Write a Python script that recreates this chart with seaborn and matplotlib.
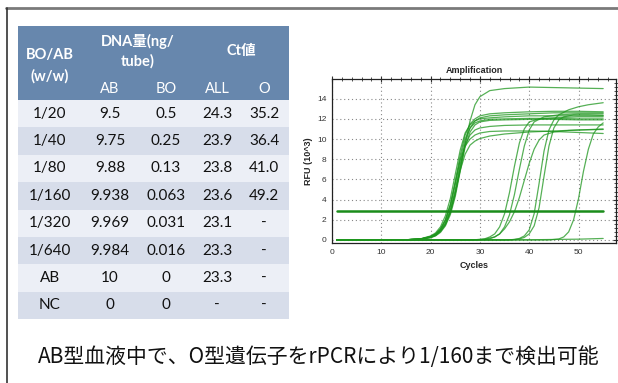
import pandas as pd
import matplotlib.pyplot as plt
import matplotlib.patches as mpatches
from matplotlib.ticker import MultipleLocator
import seaborn as sns

sns.set_style("white")
plt.rcParams["font.family"] = ["Lato", "Noto Sans CJK JP", "DejaVu Sans"]

# Table data
ROW_LABELS = ["1/20", "1/40", "1/80", "1/160", "1/320", "1/640", "AB", "NC"]
DNA_AB = ["9.5", "9.75", "9.88", "9.938", "9.969", "9.984", "10", "0"]
DNA_BO = ["0.5", "0.25", "0.13", "0.063", "0.031", "0.016", "0", "0"]
CT_ALL = ["24.3", "23.9", "23.8", "23.6", "23.1", "23.3", "23.3", "-"]
CT_O = ["35.2", "36.4", "41.0", "49.2", "-", "-", "-", "-"]
SUB_HEADERS = ["AB", "BO", "ALL", "O"]

CAPTION = "AB型血液中で、O型遺伝子をrPCRにより1/160まで検出可能"

# Amplification curves (cycle, RFU x10^3)
EARLY_CYCLES = [1, 15, 18, 20, 21, 22, 23, 24, 25, 26, 27, 28, 29, 30, 32, 35, 40, 45, 50, 55]
early_1 = [0, 0.02, 0.1, 0.3, 0.5, 0.9, 1.6, 2.8, 4.6, 7.0, 9.5, 11.8, 13.4, 14.2, 14.8, 15.0, 15.15, 15.1, 15.05, 15.0]
early_2 = [0, 0.02, 0.1, 0.35, 0.6, 1.1, 2.0, 3.5, 5.8, 8.4, 10.4, 11.5, 12.0, 12.3, 12.5, 12.6, 12.7, 12.75, 12.75, 12.7]
early_3 = [0, 0.02, 0.08, 0.25, 0.45, 0.85, 1.5, 2.7, 4.6, 7.2, 9.6, 11.1, 11.8, 12.1, 12.3, 12.4, 12.5, 12.6, 12.6, 12.6]
early_4 = [0, 0.02, 0.12, 0.4, 0.7, 1.3, 2.4, 4.1, 6.5, 8.9, 10.6, 11.4, 11.8, 12.0, 12.1, 12.2, 12.3, 12.3, 12.3, 12.3]
early_5 = [0, 0.02, 0.1, 0.3, 0.55, 1.0, 1.9, 3.3, 5.5, 8.0, 10.0, 11.1, 11.6, 11.8, 11.95, 12.0, 12.05, 12.05, 12.0, 12.0]
early_6 = [0, 0.02, 0.08, 0.22, 0.4, 0.75, 1.4, 2.5, 4.3, 6.8, 9.2, 10.7, 11.4, 11.7, 11.85, 11.9, 11.95, 11.95, 11.9, 11.9]
early_7 = [0, 0.02, 0.1, 0.3, 0.5, 0.95, 1.7, 3.0, 5.0, 7.5, 9.4, 10.4, 10.9, 11.1, 11.25, 11.35, 11.4, 11.4, 11.4, 11.4]
early_8 = [0, 0.02, 0.1, 0.35, 0.6, 1.1, 2.0, 3.5, 5.7, 7.9, 9.3, 10.0, 10.4, 10.6, 10.75, 10.8, 10.8, 10.75, 10.65, 10.55]
early_9 = [0, 0.02, 0.08, 0.25, 0.45, 0.85, 1.55, 2.8, 4.7, 6.9, 8.5, 9.4, 9.8, 10.05, 10.3, 10.5, 10.7, 10.8, 10.9, 10.95]

late_1_x = [1, 28, 30, 31, 32, 33, 34, 35, 36, 37, 38, 39, 40, 42, 45, 50, 55]
late_1_y = [0, 0, 0.05, 0.12, 0.3, 0.6, 1.3, 2.6, 4.7, 7.3, 9.6, 11.0, 11.7, 12.0, 12.1, 12.2, 12.2]
late_2_x = [1, 29, 31, 32, 33, 34, 35, 36, 37, 38, 39, 40, 41, 43, 46, 50, 55]
late_2_y = [0, 0, 0.05, 0.12, 0.3, 0.6, 1.3, 2.5, 4.5, 7.0, 9.3, 10.9, 11.7, 12.2, 12.4, 12.5, 12.5]
late_3_x = [1, 28, 31, 33, 34, 35, 36, 37, 38, 39, 40, 41, 42, 43, 45, 48, 55]
late_3_y = [0, 0, 0.08, 0.3, 0.6, 1.1, 1.8, 2.8, 4.2, 5.9, 7.6, 9.0, 9.9, 10.4, 10.7, 10.85, 11.0]
late_4_x = [1, 35, 37, 38, 39, 40, 41, 42, 43, 44, 45, 46, 48, 50, 52, 55]
late_4_y = [0, 0, 0.05, 0.15, 0.4, 1.0, 2.6, 5.6, 8.8, 10.9, 11.9, 12.4, 12.9, 13.2, 13.4, 13.6]
late_5_x = [1, 36, 38, 39, 40, 41, 42, 43, 44, 45, 46, 47, 49, 52, 55]
late_5_y = [0, 0, 0.1, 0.25, 0.6, 1.4, 3.2, 6.3, 9.3, 11.1, 11.9, 12.2, 12.4, 12.4, 12.35]
late_6_x = [1, 44, 46, 47, 48, 49, 50, 51, 52, 53, 54, 55]
late_6_y = [0, 0, 0.1, 0.3, 0.8, 2.0, 4.1, 6.8, 9.0, 10.5, 11.2, 11.6]
nc_x = [1, 20, 40, 50, 55]
nc_y = [0.02, 0.0, 0.02, 0.08, 0.15]

THRESHOLD = 2.9
THRESHOLD_RANGE = [1, 55]

# long table of curves for seaborn
curves = {}
for i, ys in enumerate([early_1, early_2, early_3, early_4, early_5,
                        early_6, early_7, early_8, early_9]):
    curves[f"e{i}"] = (EARLY_CYCLES, ys)
curves["l1"] = (late_1_x, late_1_y)
curves["l2"] = (late_2_x, late_2_y)
curves["l3"] = (late_3_x, late_3_y)
curves["l4"] = (late_4_x, late_4_y)
curves["l5"] = (late_5_x, late_5_y)
curves["l6"] = (late_6_x, late_6_y)
curves["nc"] = (nc_x, nc_y)

rows = []
for name, (xs, ys) in curves.items():
    for x, y in zip(xs, ys):
        rows.append({"well": name, "cycle": x, "rfu": y})
df = pd.DataFrame(rows)

fig = plt.figure(figsize=(6.18, 3.83), dpi=100)

# page overlay in pixel coordinates
page = fig.add_axes([0, 0, 1, 1])
page.set_xlim(0, 618)
page.set_ylim(383, 0)
page.axis("off")

# frame lines
page.plot([6, 618], [7.5, 7.5], color="#7a7a7a", lw=2)
page.plot([6.5, 6.5], [7.5, 383], color="#333333", lw=1.2)

# table
tx0, tx1 = 18, 289
head_top, head_bot = 26, 100
row_h = (319 - head_bot) / len(ROW_LABELS)
col_x = [50, 110, 166, 217, 264]

page.add_patch(mpatches.Rectangle((tx0, head_top), tx1 - tx0, head_bot - head_top,
                                  facecolor="#6787ad", edgecolor="none"))
for i in range(len(ROW_LABELS)):
    fc = "#eceff6" if i % 2 == 0 else "#d7ddea"
    page.add_patch(mpatches.Rectangle((tx0, head_bot + i * row_h), tx1 - tx0, row_h,
                                      facecolor=fc, edgecolor="none"))

hdr = dict(color="white", fontsize=10.5, fontweight="bold", ha="center", va="center")
page.text(col_x[0], 55, "BO/AB", **hdr)
page.text(col_x[0], 76, "(w/w)", **hdr)
page.text(138, 41, "DNA量(ng/", **hdr)
page.text(138, 61, "tube)", **hdr)
page.text(241, 51, "Ct値", **hdr)
for x, s in zip(col_x[1:], SUB_HEADERS):
    page.text(x, 89, s, color="white", fontsize=10.5, ha="center", va="center")

for i, vals in enumerate(zip(ROW_LABELS, DNA_AB, DNA_BO, CT_ALL, CT_O)):
    yc = head_bot + (i + 0.5) * row_h
    for x, s in zip(col_x, vals):
        page.text(x, yc, s, color="#111111", fontsize=11, ha="center", va="center")

page.text(319, 357, CAPTION, fontsize=15, ha="center", va="center",
          family=["Noto Sans CJK JP", "DejaVu Sans"], color="#111111")

# amplification plot
ax = fig.add_axes([332 / 618, 1 - 243 / 383, 284 / 618, 164 / 383])
sns.lineplot(data=df, x="cycle", y="rfu", units="well", estimator=None,
             color="#1e961e", lw=0.9, alpha=0.75, sort=False, ax=ax)
ax.plot(THRESHOLD_RANGE, [THRESHOLD, THRESHOLD], color="#1a8c1a", lw=1.8)

ax.set_xlim(0, 57.6)
ax.set_ylim(-0.3, 15.95)
ax.xaxis.set_major_locator(MultipleLocator(10))
ax.xaxis.set_minor_locator(MultipleLocator(2))
ax.yaxis.set_major_locator(MultipleLocator(2))
ax.yaxis.set_minor_locator(MultipleLocator(0.4))
ax.grid(True, which="major", linestyle=(0, (1, 2.5)), color="#888888", lw=0.8)
ax.tick_params(which="both", direction="inout", top=True, right=True,
               labelsize=6, colors="#333333", pad=2)
ax.tick_params(which="major", length=4, width=0.8)
ax.tick_params(which="minor", length=2.5, width=0.6)
for sp in ax.spines.values():
    sp.set_color("#222222")
    sp.set_linewidth(0.9)

lab = dict(family=["Liberation Sans", "DejaVu Sans"], fontweight="bold", fontsize=6.5)
ax.set_title("Amplification", pad=4, **lab)
ax.set_xlabel("Cycles", labelpad=4, **lab)
ax.set_ylabel("RFU (10^3)", labelpad=3, **lab)
for t in ax.get_xticklabels() + ax.get_yticklabels():
    t.set_family(["Liberation Sans", "DejaVu Sans"])

fig.savefig("out.png", dpi=100)
